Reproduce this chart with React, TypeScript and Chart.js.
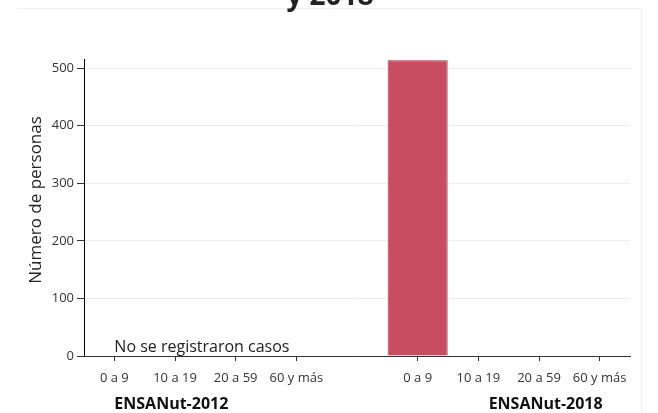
import React, { useEffect, useRef } from "react";
import { Chart, registerables } from "chart.js";

Chart.register(...registerables);

const categories: string[] = ["0 a 9", "10 a 19", "20 a 59", "60 y más", "", "0 a 9", "10 a 19", "20 a 59", "60 y más"];
const values: (number | null)[] = [null, null, null, null, null, 514, null, null, null];
const groupLabels: string[] = ["ENSANut-2012", "ENSANut-2018"];
const yTicks: number[] = [0, 100, 200, 300, 400, 500];
const titleText = "y 2018";
const yTitle = "Número de personas";
const noteText = "No se registraron casos";

const FONT = "'Open Sans', 'DejaVu Sans', sans-serif";

const extras = {
  id: "extras",
  afterDraw(chart: any) {
    const ctx = chart.ctx;
    const x = chart.scales.x;
    const area = chart.chartArea;
    ctx.save();
    // card border
    ctx.strokeStyle = "#f0f0f0";
    ctx.lineWidth = 1;
    ctx.beginPath();
    ctx.moveTo(17, 8.5);
    ctx.lineTo(641.5, 8.5);
    ctx.lineTo(641.5, 413);
    ctx.stroke();
    // title (cut off)
    ctx.fillStyle = "#222";
    ctx.font = `bold 28px ${FONT}`;
    ctx.textAlign = "center";
    ctx.textBaseline = "alphabetic";
    ctx.fillText(titleText, 330, 5);
    // y axis title
    ctx.save();
    ctx.translate(36, 200);
    ctx.rotate(-Math.PI / 2);
    ctx.font = `17px ${FONT}`;
    ctx.fillStyle = "#222";
    ctx.textAlign = "center";
    ctx.textBaseline = "middle";
    ctx.fillText(yTitle, 0, 0);
    ctx.restore();
    // note
    ctx.font = `16px ${FONT}`;
    ctx.fillStyle = "#222";
    ctx.textAlign = "left";
    ctx.textBaseline = "alphabetic";
    ctx.fillText(noteText, x.getPixelForValue(0), area.bottom - 4);
    // group labels
    ctx.font = `bold 16px ${FONT}`;
    ctx.fillStyle = "#111";
    ctx.textAlign = "left";
    ctx.fillText(groupLabels[0], x.getPixelForValue(0), 409);
    ctx.textAlign = "right";
    ctx.fillText(groupLabels[1], x.getPixelForValue(8) + 3, 409);
    ctx.restore();
  },
};

export default function App() {
  const ref = useRef<HTMLCanvasElement | null>(null);
  useEffect(() => {
    document.body.style.margin = "0";
    const chart = new Chart(ref.current as HTMLCanvasElement, {
      type: "bar",
      data: {
        labels: categories,
        datasets: [
          {
            data: values,
            backgroundColor: "rgb(201,77,96)",
            borderColor: "rgb(186,45,68)",
            borderWidth: 1,
            categoryPercentage: 1,
            barPercentage: 0.99,
          },
        ],
      },
      options: {
        animation: false,
        responsive: false,
        maintainAspectRatio: false,
        layout: { padding: { top: 59, right: 28, left: 0, bottom: 0 } },
        plugins: { legend: { display: false }, tooltip: { enabled: false }, title: { display: false } },
        scales: {
          x: {
            afterFit: (s: any) => { s.height = 57; },
            grid: {
              display: true,
              offset: false,
              drawOnChartArea: false,
              drawTicks: true,
              tickLength: 5,
              tickColor: (c: any) => (c.index === 4 ? "rgba(0,0,0,0)" : "#333"),
            },
            border: { display: true, color: "#333", width: 1 },
            ticks: { color: "#333", font: { family: FONT, size: 13 }, padding: 9, maxRotation: 0, autoSkip: false },
          },
          y: {
            min: 0,
            max: 516,
            afterFit: (s: any) => { s.width = 84; },
            afterBuildTicks: (s: any) => { s.ticks = yTicks.map((v) => ({ value: v })); },
            grid: { color: "#ebeef0", tickColor: "#333", tickLength: 7, lineWidth: 1 },
            border: { display: true, color: "#000", width: 1 },
            ticks: { color: "#333", font: { family: FONT, size: 13 }, padding: 3 },
          },
        },
      },
      plugins: [extras],
    });
    return () => chart.destroy();
  }, []);
  return (
    <div style={{ width: 658, height: 413, background: "#fff" }}>
      <canvas ref={ref} width={658} height={413} style={{ display: "block" }} />
    </div>
  );
}
